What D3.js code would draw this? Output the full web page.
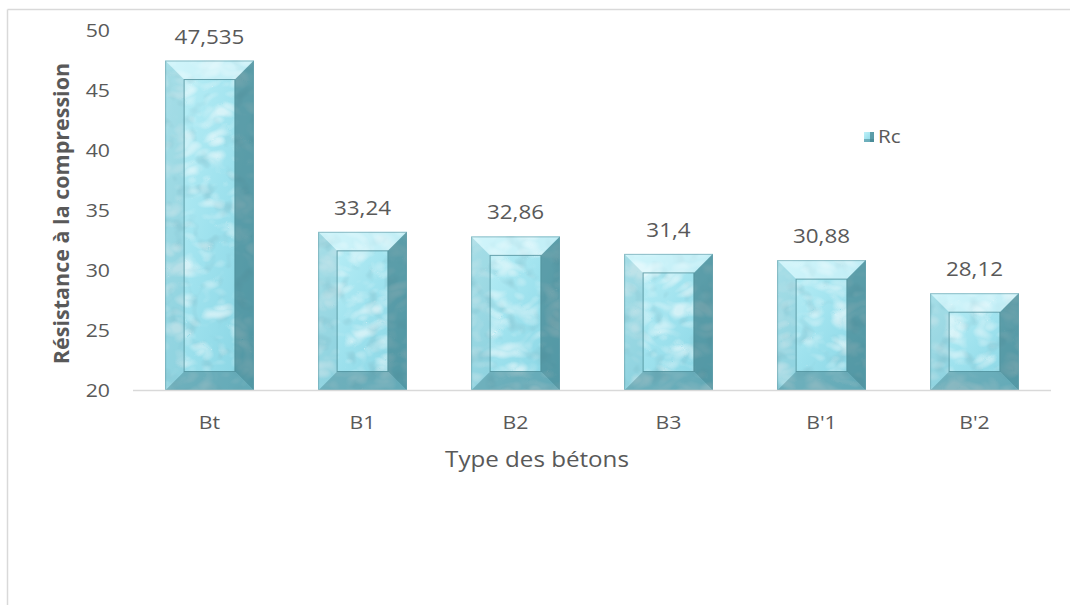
<!DOCTYPE html>
<html>
<head>
<meta charset="utf-8">
<script src="https://cdn.jsdelivr.net/npm/d3@7/dist/d3.min.js"></script>
<style>
  html, body { margin: 0; padding: 0; background: #fff; }
  svg text { font-family: "Open Sans", "Noto Sans", sans-serif; fill: #595959; }
</style>
</head>
<body>
<svg id="chart" width="1070" height="605"></svg>
<script>
// Compressive strength by concrete type
const categories = ["Bt", "B1", "B2", "B3", "B'1", "B'2"];
const rcValues = [47.535, 33.24, 32.86, 31.4, 30.88, 28.12];
const yTicks = [20, 25, 30, 35, 40, 45, 50];
const seriesName = "Rc";
const xTitle = "Type des bétons";
const yTitle = "Résistance à la compression";

const svg = d3.select("#chart");
const W = 1070, H = 605;
const SX = 1.15; // horizontal widening of the label face

const x = d3.scaleBand().domain(categories).range([133, 1051]).paddingInner(0.42).paddingOuter(0.21);
const y = d3.scaleLinear().domain([20, 50]).range([390.5, 31]);

// place a horizontally widened text at (px, py)
const at = (px, py) => `translate(${px},${py}) scale(${SX},1)`;

// Defs: face gradient and water texture filters
const defs = svg.append("defs");
const faceGrad = defs.append("linearGradient").attr("id", "face").attr("x1", 0).attr("y1", 0).attr("x2", 1).attr("y2", 1);
faceGrad.append("stop").attr("offset", "0%").attr("stop-color", "#bff1f8");
faceGrad.append("stop").attr("offset", "50%").attr("stop-color", "#9fe2ee");
faceGrad.append("stop").attr("offset", "100%").attr("stop-color", "#86d3e2");

const water = defs.append("filter").attr("id", "water")
  .attr("x", 0).attr("y", 0).attr("width", 1).attr("height", 1);
water.append("feTurbulence").attr("type", "turbulence")
  .attr("baseFrequency", "0.035 0.05").attr("numOctaves", 2).attr("seed", 7).attr("result", "noise");
water.append("feColorMatrix").attr("in", "noise").attr("type", "matrix")
  .attr("values", "0 0 0 0 1  0 0 0 0 1  0 0 0 0 1  2.2 0 0 0 -0.35").attr("result", "spots");
water.append("feComposite").attr("in", "spots").attr("in2", "SourceAlpha").attr("operator", "in");

const shade = defs.append("filter").attr("id", "shade")
  .attr("x", 0).attr("y", 0).attr("width", 1).attr("height", 1);
shade.append("feTurbulence").attr("type", "fractalNoise")
  .attr("baseFrequency", "0.06").attr("numOctaves", 2).attr("seed", 3).attr("result", "n");
shade.append("feColorMatrix").attr("in", "n").attr("type", "matrix")
  .attr("values", "0 0 0 0 0.22  0 0 0 0 0.5  0 0 0 0 0.58  -1.6 0 0 0 0.72").attr("result", "d");
shade.append("feComposite").attr("in", "d").attr("in2", "SourceAlpha").attr("operator", "in");

// Outer frame (top and left edges)
svg.append("line").attr("x1", 7.5).attr("x2", W).attr("y1", 9.5).attr("y2", 9.5)
  .attr("stroke", "#d9d9d9").attr("stroke-width", 1.5);
svg.append("line").attr("x1", 7.5).attr("x2", 7.5).attr("y1", 9.5).attr("y2", H)
  .attr("stroke", "#d9d9d9").attr("stroke-width", 1.5);

// Y axis tick labels
svg.append("g").selectAll("text").data(yTicks).join("text")
  .attr("transform", d => at(110, y(d))).attr("dy", "0.35em")
  .attr("text-anchor", "end").attr("font-size", 18.5).text(d => d);

// Bars with bevelled frame
const bevel = 19;
const rows = categories.map((c, i) => ({ c, v: rcValues[i] }));
const bars = svg.append("g").selectAll("g").data(rows).join("g");
bars.each(function (d) {
  const g = d3.select(this);
  const x0 = x(d.c), x1 = x(d.c) + x.bandwidth();
  const y0 = y(d.v), y1 = y(20);
  const b = Math.min(bevel, (y1 - y0) / 2);
  g.append("rect").attr("x", x0).attr("y", y0).attr("width", x1 - x0).attr("height", y1 - y0)
    .attr("fill", "url(#face)");
  g.append("rect").attr("x", x0).attr("y", y0).attr("width", x1 - x0).attr("height", y1 - y0)
    .attr("fill", "#000").attr("filter", "url(#shade)");
  g.append("rect").attr("x", x0).attr("y", y0).attr("width", x1 - x0).attr("height", y1 - y0)
    .attr("fill", "#fff").attr("filter", "url(#water)").attr("opacity", 0.55);
  const poly = pts => pts.map(p => p.join(",")).join(" ");
  g.append("polygon").attr("points", poly([[x0, y0], [x1, y0], [x1 - b, y0 + b], [x0 + b, y0 + b]]))
    .attr("fill", "#e4fafd").attr("opacity", 0.5);
  g.append("polygon").attr("points", poly([[x0, y0], [x0, y1], [x0 + b, y1 - b], [x0 + b, y0 + b]]))
    .attr("fill", "#6fb3c0").attr("opacity", 0.3);
  g.append("polygon").attr("points", poly([[x1, y0], [x1, y1], [x1 - b, y1 - b], [x1 - b, y0 + b]]))
    .attr("fill", "#2f6f7c").attr("opacity", 0.6);
  g.append("polygon").attr("points", poly([[x0, y1], [x1, y1], [x1 - b, y1 - b], [x0 + b, y1 - b]]))
    .attr("fill", "#3f7f8b").attr("opacity", 0.5);
  g.append("rect").attr("x", x0 + b).attr("y", y0 + b).attr("width", x1 - x0 - 2 * b).attr("height", y1 - y0 - 2 * b)
    .attr("fill", "none").attr("stroke", "#4d8e9a").attr("stroke-width", 1).attr("opacity", 0.8);
  g.append("rect").attr("x", x0 + 0.5).attr("y", y0 + 0.5).attr("width", x1 - x0 - 1).attr("height", y1 - y0 - 1)
    .attr("fill", "none").attr("stroke", "#5f9aa5").attr("stroke-width", 1).attr("opacity", 0.6);
});

// Value labels
svg.append("g").selectAll("text").data(rows).join("text")
  .attr("transform", d => at(x(d.c) + x.bandwidth() / 2, y(d.v) - 17))
  .attr("text-anchor", "middle").attr("font-size", 19.5)
  .text(d => String(d.v).replace(".", ","));

// X axis line and labels
svg.append("line").attr("x1", 133).attr("x2", 1051).attr("y1", y(20)).attr("y2", y(20))
  .attr("stroke", "#d9d9d9").attr("stroke-width", 1.5);
svg.append("g").selectAll("text").data(categories).join("text")
  .attr("transform", d => at(x(d) + x.bandwidth() / 2, 429))
  .attr("text-anchor", "middle").attr("font-size", 18.5).text(d => d);

// Axis titles
svg.append("text").attr("transform", at(537, 467)).attr("text-anchor", "middle")
  .attr("font-size", 21).text(xTitle);
svg.append("text").attr("transform", "translate(69,213.5) rotate(-90)")
  .attr("text-anchor", "middle").attr("font-size", 21.5).attr("font-weight", "bold").text(yTitle);

// Legend
const lg = svg.append("g").attr("transform", "translate(864,132)");
lg.append("rect").attr("width", 10).attr("height", 10).attr("fill", "url(#face)");
lg.append("rect").attr("x", 6).attr("width", 4).attr("height", 10).attr("fill", "#3f7f8b").attr("opacity", 0.7);
lg.append("rect").attr("y", 7).attr("width", 10).attr("height", 3).attr("fill", "#3f7f8b").attr("opacity", 0.5);
lg.append("text").attr("transform", at(878, 137) + "").attr("dy", "0.35em").attr("font-size", 18).text(seriesName)
  .attr("transform", `translate(14,5) scale(${SX},1)`);
</script>
</body>
</html>
